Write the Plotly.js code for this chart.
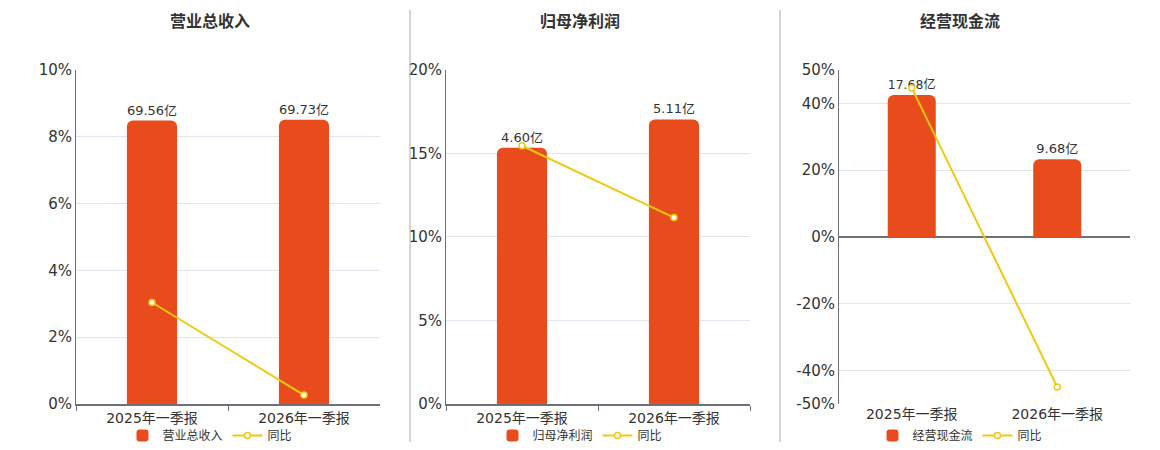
<!DOCTYPE html>
<html>
<head>
<meta charset="utf-8">
<script src="https://cdn.plot.ly/plotly-3.0.1.min.js"></script>
<style>
  html, body { margin: 0; padding: 0; background: #fff; }
  #myPlot { width: 1160px; height: 450px; }
</style>
</head>
<body>
<div id="myPlot"></div>
<script>
// categories and values
var periods = ['2025年一季报', '2026年一季报']
var chartTitles = ['营业总收入', '归母净利润', '经营现金流']

var revenue = [69.56, 69.73]
var revenueYoY = [3.04, 0.27]
var profit = [4.60, 5.11]
var profitYoY = [15.46, 11.16]
var cashflow = [17.68, 9.68]
var cashflowYoY = [44.6, -44.9]
var cashTicks = [-50, -40, -20, 0, 20, 40, 50]

var barColor = '#E84B1C'
var lineColor = '#F2C811'
var font = '"DejaVu Sans", "Noto Sans CJK SC", sans-serif'

/// builds the bar + line pair for one panel (bars on hidden base axis, line on visible overlay)
function makeTraces(n, name, bars, yoy) {
    var xa = n == 1 ? 'x' : 'x' + n
    var barAxis = n == 1 ? 'y' : 'y' + (n * 2 - 1)
    var lineAxis = 'y' + (n * 2)
    var lg = n == 1 ? 'legend' : 'legend' + n
    var bar = {
        x: periods,
        y: bars,
        name: name,
        type: 'bar',
        xaxis: xa,
        yaxis: barAxis,
        width: 0.33,
        marker: { color: barColor, cornerradius: 6 },
        text: bars.map(function (v) { return v.toFixed(2) + '亿' }),
        textposition: 'outside',
        textfont: { size: 13, color: '#333', family: font },
        cliponaxis: false,
        legend: lg,
        hoverinfo: 'skip'
    }
    var line = {
        x: periods,
        y: yoy,
        name: '同比',
        type: 'scatter',
        mode: 'lines+markers',
        xaxis: xa,
        yaxis: lineAxis,
        line: { color: lineColor, width: 2 },
        marker: { size: 6, color: '#fff', line: { color: lineColor, width: 1.5 } },
        cliponaxis: false,
        legend: lg,
        hoverinfo: 'skip'
    }
    return [bar, line]
}

var plotData = []
    .concat(makeTraces(1, chartTitles[0], revenue, revenueYoY))
    .concat(makeTraces(2, chartTitles[1], profit, profitYoY))
    .concat(makeTraces(3, chartTitles[2], cashflow, cashflowYoY))

var xDomains = [[76 / 1160, 380 / 1160], [446 / 1160, 750 / 1160], [839 / 1160, 1130 / 1160]]
var yDomain = [0.1, 1 - 70 / 450]

function xName(i) { return i == 0 ? 'x' : 'x' + (i + 1) }
function baseName(i) { return i == 0 ? 'y' : 'y' + (i * 2 + 1) }

function xAxis(i) {
    return {
        domain: xDomains[i],
        anchor: baseName(i),
        type: 'category',
        showline: i != 2,
        linecolor: '#6E7079',
        linewidth: 2,
        ticks: i == 2 ? '' : 'outside',
        tickson: 'boundaries',
        ticklen: 5,
        tickcolor: '#6E7079',
        showgrid: false,
        tickfont: { size: 14, color: '#333', family: font },
        fixedrange: true
    }
}

// hidden axis that scales the bars
function barAxis(i, range) {
    return {
        domain: yDomain,
        anchor: xName(i),
        range: range,
        visible: false,
        showgrid: false,
        zeroline: false,
        fixedrange: true
    }
}

// visible percentage axis for the 同比 line
function pctAxis(i, range, dtick) {
    return {
        domain: yDomain,
        overlaying: baseName(i),
        anchor: xName(i),
        side: 'left',
        range: range,
        dtick: dtick,
        ticksuffix: '%',
        showline: true,
        linecolor: '#6E7079',
        linewidth: 1,
        gridcolor: '#E0E6F1',
        zeroline: i == 2,
        zerolinecolor: '#6E7079',
        zerolinewidth: 2,
        tickfont: { size: 15, color: '#333', family: font },
        ticks: '',
        fixedrange: true
    }
}

function legendAt(cx) {
    return {
        orientation: 'h',
        x: cx, xanchor: 'center',
        y: 1 - 436 / 450, yanchor: 'middle',
        font: { size: 12, color: '#333', family: font },
        itemwidth: 30,
        bgcolor: 'rgba(0,0,0,0)'
    }
}

var cashAxis = pctAxis(2, [-50, 50], 20)
cashAxis.tickmode = 'array'
cashAxis.tickvals = cashTicks
cashAxis.ticktext = cashTicks.map(function (v) { return v + '%' })

var layout = {
    width: 1160,
    height: 450,
    margin: { l: 0, r: 0, t: 0, b: 0 },
    paper_bgcolor: '#fff',
    plot_bgcolor: '#fff',
    showlegend: true,
    font: { family: font },
    xaxis: xAxis(0),
    xaxis2: xAxis(1),
    xaxis3: xAxis(2),
    yaxis: barAxis(0, [0, 82]),
    yaxis2: pctAxis(0, [0, 10], 2),
    yaxis3: barAxis(1, [0, 6.0]),
    yaxis4: pctAxis(1, [0, 20], 5),
    yaxis5: barAxis(2, [-20.8, 20.8]),
    yaxis6: cashAxis,
    legend: legendAt(210 / 1160),
    legend2: legendAt(580 / 1160),
    legend3: legendAt(960 / 1160),
    annotations: chartTitles.map(function (t, i) {
        return {
            text: '<b>' + t + '</b>',
            xref: 'paper', yref: 'paper',
            x: [210, 580, 960][i] / 1160, y: 1 - 22 / 450,
            xanchor: 'center', yanchor: 'middle',
            showarrow: false,
            font: { size: 16, color: '#333', family: font }
        }
    }),
    shapes: [410, 780].map(function (px) {
        return {
            type: 'line', xref: 'paper', yref: 'paper',
            x0: px / 1160, x1: px / 1160,
            y0: 1 - 10 / 450, y1: 1 - 443 / 450,
            line: { color: '#AAAAAA', width: 1 }
        }
    })
}

Plotly.newPlot('myPlot', plotData, layout, { staticPlot: true })
</script>
</body>
</html>
